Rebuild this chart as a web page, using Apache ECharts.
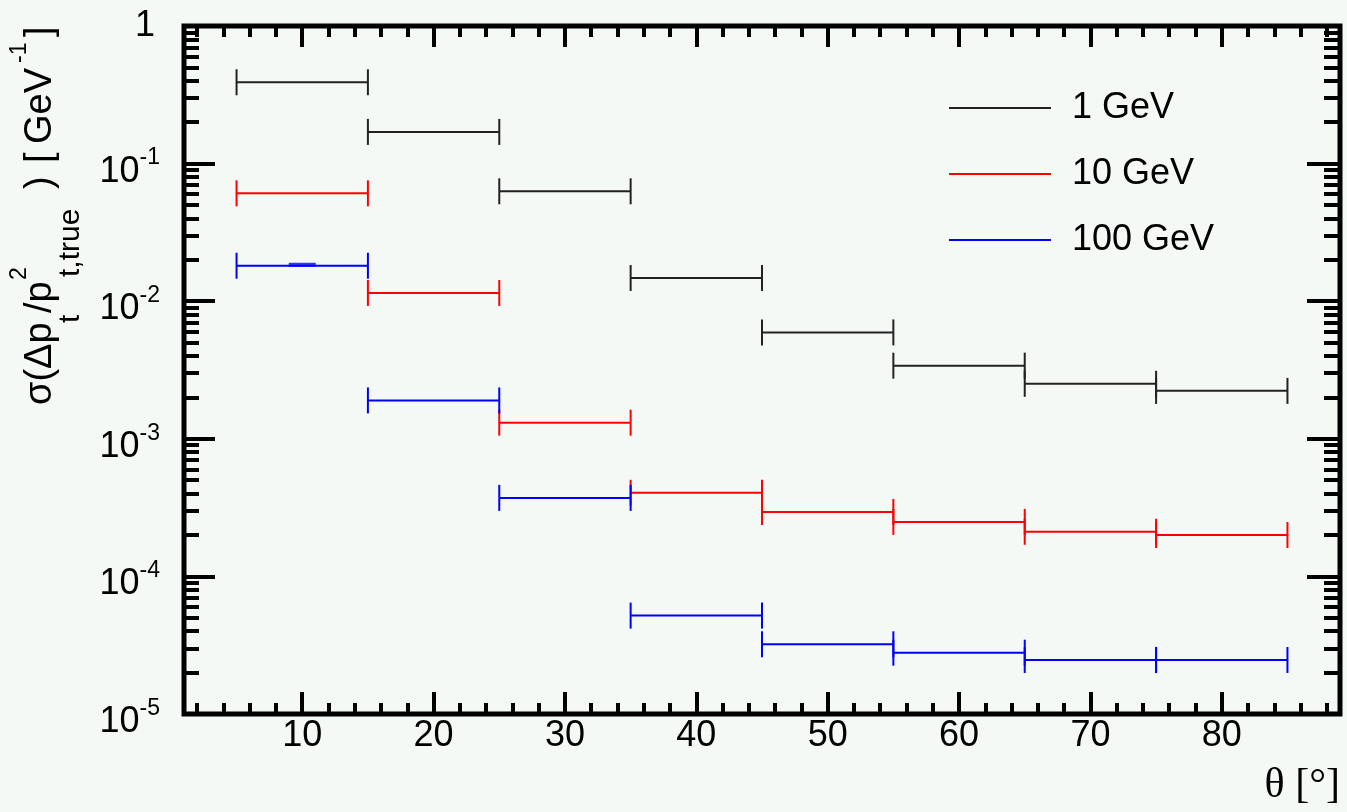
<!DOCTYPE html>
<html>
<head>
<meta charset="utf-8">
<script src="https://cdn.jsdelivr.net/npm/echarts@6/dist/echarts.min.js"></script>
<style>
  html, body { margin: 0; padding: 0; background: #f5f9f6; }
  #chart { width: 1347px; height: 812px; }
</style>
</head>
<body>
<div id="chart"></div>
<script>
// Bin centres in theta (degrees); each bin spans +-5 degrees
const thetaCenters = [10, 20, 30, 40, 50, 60, 70, 80];
const binHalfWidth = 5;

// sigma(dpt/pt^2) in GeV^-1 per theta bin
const sigma1GeV   = [0.39, 0.170, 0.0629, 0.01475, 0.00593, 0.0034, 0.00251, 0.00223];
const sigma10GeV  = [0.0608, 0.01148, 0.00131, 0.000405, 0.000294, 0.000249, 0.000211, 0.000200];
const sigma100GeV = [0.0181, 0.0019, 0.000372, 5.19e-5, 3.21e-5, 2.79e-5, 2.47e-5, 2.47e-5];

const seriesNames  = ['1 GeV', '10 GeV', '100 GeV'];
const seriesColors = ['#222222', '#ff0000', '#0000ff'];

// Axis ticks
const xMajorTicks = [10, 20, 30, 40, 50, 60, 70, 80];
const xMinorTicks = [2, 4, 6, 8, 12, 14, 16, 18, 22, 24, 26, 28, 32, 34, 36, 38, 42, 44, 46, 48,
                     52, 54, 56, 58, 62, 64, 66, 68, 72, 74, 76, 78, 82, 84, 86, 88];
const yDecades = [1e-5, 1e-4, 1e-3, 1e-2, 1e-1, 1];
const yMinorTicks = [];
for (let d = 0; d < yDecades.length - 1; d++) {
  for (let k = 2; k <= 9; k++) yMinorTicks.push(+(k * yDecades[d]).toPrecision(3));
}

const FONT = '"Liberation Sans", Arial, Helvetica, sans-serif';

function toPairs(vals) {
  return thetaCenters.map((t, i) => [t, vals[i]]);
}

// Horizontal bin-width bar with perpendicular end caps
function makeRenderer(color) {
  return function (params, api) {
    const x = api.value(0), y = api.value(1);
    const a = api.coord([x - binHalfWidth, y]);
    const b = api.coord([x + binHalfWidth, y]);
    const cap = 13;
    const style = { stroke: color, lineWidth: 2, fill: null };
    return {
      type: 'group',
      children: [
        { type: 'line', shape: { x1: a[0], y1: a[1], x2: b[0], y2: b[1] }, style: style },
        { type: 'line', shape: { x1: a[0], y1: a[1] - cap, x2: a[0], y2: a[1] + cap }, style: style },
        { type: 'line', shape: { x1: b[0], y1: b[1] - cap, x2: b[0], y2: b[1] + cap }, style: style }
      ]
    };
  };
}

const allSigma = [sigma1GeV, sigma10GeV, sigma100GeV];
const series = allSigma.map((vals, i) => ({
  name: seriesNames[i],
  type: 'custom',
  xAxisIndex: 0,
  yAxisIndex: 0,
  itemStyle: { color: seriesColors[i] },
  renderItem: makeRenderer(seriesColors[i]),
  data: toPairs(vals),
  z: 3 + i
}));
// small marker drawn on the first 100 GeV point
series.push({
  type: 'scatter',
  xAxisIndex: 0,
  yAxisIndex: 0,
  symbol: 'rect',
  symbolSize: [27, 4],
  symbolOffset: [0, -1],
  itemStyle: { color: '#0000ff' },
  silent: true,
  data: [[thetaCenters[0], sigma100GeV[0]]],
  z: 6
});

function xAxisDef(pos, ticks, len, labels) {
  return {
    type: 'value', position: pos, min: 1, max: 89,
    axisLine: { show: false },
    splitLine: { show: false },
    axisTick: { show: true, inside: true, length: len, customValues: ticks,
                lineStyle: { color: '#000', width: 4 } },
    axisLabel: labels ? {
      show: true, customValues: xMajorTicks, margin: 4,
      fontSize: 36, fontFamily: FONT, color: '#000'
    } : { show: false }
  };
}

function yAxisDef(pos, ticks, len, labels) {
  return {
    type: 'log', logBase: 10, position: pos, min: 1e-5, max: 1,
    axisLine: { show: false },
    splitLine: { show: false },
    minorTick: { show: false },
    axisTick: { show: true, inside: true, length: len, customValues: ticks,
                lineStyle: { color: '#000', width: 4 } },
    axisLabel: labels ? {
      show: true, customValues: yDecades, margin: 24, fontFamily: FONT, color: '#000',
      formatter: function (v) {
        const e = Math.round(Math.log10(v));
        return e === 0 ? '{one|1}' : '{m|10}{s|' + e + '}';
      },
      rich: {
        one: { fontSize: 36, fontFamily: FONT, color: '#000', lineHeight: 34, padding: [0, 5, 0, 0] },
        m: { fontSize: 36, fontFamily: FONT, color: '#000', lineHeight: 34, padding: [7, 0, 0, 0], verticalAlign: 'top' },
        s: { fontSize: 23, fontFamily: FONT, color: '#000', lineHeight: 19, verticalAlign: 'top' }
      }
    } : { show: false }
  };
}

// Rotated y-axis title, placed piece by piece along the left edge
// (main text, subscripts to the right, superscripts to the left).
// y is the screen position where each piece begins (its bottom end).
const MAIN = { fs: 38, cx: 41 }, SUB = { fs: 30, cx: 71 }, SUP = { fs: 23, cx: 20 };
const yTitlePieces = [
  { t: 'σ(Δp',   k: MAIN, y: 405 },
  { t: 't',      k: SUB,  y: 323 },
  { t: '/p',     k: MAIN, y: 313 },
  { t: '2',      k: SUP,  y: 280 },
  { t: 't,true', k: SUB,  y: 277 },
  { t: ')',      k: MAIN, y: 189 },
  { t: '[',      k: MAIN, y: 163 },
  { t: 'GeV',    k: MAIN, y: 144 },
  { t: '-1',     k: SUP,  y: 63 },
  { t: ']',      k: MAIN, y: 37 }
];
const graphics = yTitlePieces.map(p => ({
  type: 'text', x: p.k.cx, y: p.y, rotation: Math.PI / 2, silent: true,
  style: {
    text: p.t, fontSize: p.k.fs, fontFamily: FONT, fill: '#000',
    align: 'left', textAlign: 'left',
    verticalAlign: 'middle', textVerticalAlign: 'middle'
  }
}));
graphics.push({
  type: 'text', x: 1340, y: 786, silent: true,
  style: {
    text: 'θ [°]', fontSize: 42, fontFamily: '"Liberation Serif", "Times New Roman", serif', fill: '#000',
    align: 'right', textAlign: 'right', verticalAlign: 'middle', textVerticalAlign: 'middle'
  }
});

const chart = echarts.init(document.getElementById('chart'), null, { renderer: 'canvas' });
chart.setOption({
  backgroundColor: '#f5f9f6',
  animation: false,
  grid: {
    left: 184, right: 7, top: 26, bottom: 98,
    show: true, borderColor: '#000', borderWidth: 5, backgroundColor: 'transparent'
  },
  legend: {
    orient: 'vertical', left: 949, top: 88, padding: 0,
    itemGap: 26, itemWidth: 102, itemHeight: 2, icon: 'rect',
    textStyle: { fontSize: 36, fontFamily: FONT, color: '#000', lineHeight: 40, padding: [0, 0, 0, 16] },
    data: seriesNames.map((n, i) => ({ name: n, icon: 'rect', itemStyle: { color: seriesColors[i] } }))
  },
  xAxis: [
    xAxisDef('bottom', xMajorTicks, 22, true),
    xAxisDef('top', xMajorTicks, 21, false),
    xAxisDef('bottom', xMinorTicks, 11, false),
    xAxisDef('top', xMinorTicks, 11, false)
  ],
  yAxis: [
    yAxisDef('left', yDecades, 31, true),
    yAxisDef('right', yDecades, 33, false),
    yAxisDef('left', yMinorTicks, 15, false),
    yAxisDef('right', yMinorTicks, 16, false)
  ],
  graphic: graphics,
  series: series
});
</script>
</body>
</html>
